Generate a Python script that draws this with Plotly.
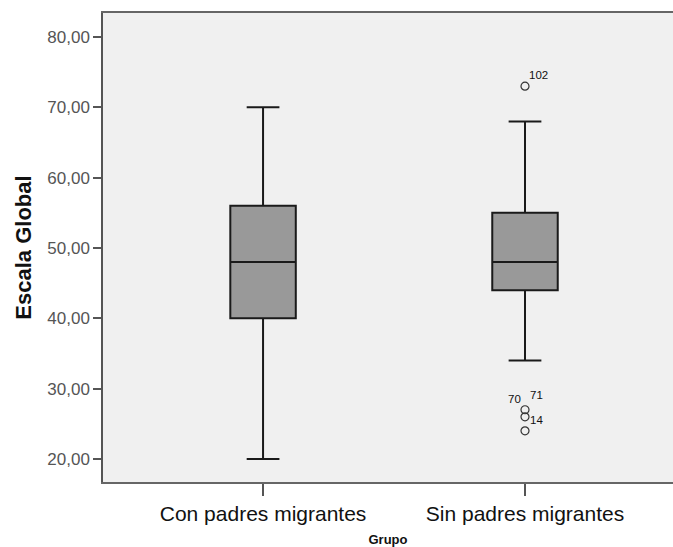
import plotly.graph_objects as go

categories = ["Con padres migrantes", "Sin padres migrantes"]
lower_whisker = [20, 34]
q1 = [40, 44]
median = [48, 48]
q3 = [56, 55]
upper_whisker = [70, 68]

outlier_group = ["Sin padres migrantes"] * 4
outlier_values = [73, 27, 26, 24]

label_text = ["102", "70", "71", "14"]
label_values = [74.6, 28.6, 29.1, 25.6]
label_offset_x = [0.05, -0.04, 0.045, 0.045]

cat_pos = {c: i for i, c in enumerate(categories)}

fig = go.Figure()
fig.add_trace(go.Box(
    x=[0, 1],
    q1=q1, median=median, q3=q3,
    lowerfence=lower_whisker, upperfence=upper_whisker,
    fillcolor="#999999",
    line=dict(color="#1a1a1a", width=2),
    width=0.25,
    whiskerwidth=0.5,
    showlegend=False,
    hoverinfo="skip",
))
fig.add_trace(go.Scatter(
    x=[cat_pos[g] for g in outlier_group], y=outlier_values,
    mode="markers",
    marker=dict(symbol="circle-open", size=8, color="#333333", line=dict(width=1.2)),
    showlegend=False,
    hoverinfo="skip",
))
for t, v, dx in zip(label_text, label_values, label_offset_x):
    fig.add_annotation(x=1 + dx, y=v, text=t, showarrow=False,
                       font=dict(family="Liberation Sans, Arial", size=11.5, color="#111111"),
                       xanchor="center", yanchor="middle")

fig.update_layout(
    width=673, height=547,
    margin=dict(l=103, r=0, t=13, b=65),
    paper_bgcolor="white",
    plot_bgcolor="#F0F0F0",
    separators=",.",
    font=dict(family="Liberation Sans, Arial", color="#333333"),
    xaxis=dict(
        range=[-0.611, 1.565],
        tickvals=[0, 1], ticktext=categories,
        showline=True, linecolor="#666666", linewidth=1.5, mirror=True,
        ticks="outside", ticklen=12, tickcolor="#555555", tickwidth=1.5,
        tickfont=dict(size=21, color="#111111"),
        showgrid=False, zeroline=False,
        title=dict(text="<b>Grupo</b>", font=dict(size=13, color="#111111"), standoff=11),
    ),
    yaxis=dict(
        range=[16.73, 83.41],
        tickvals=[20, 30, 40, 50, 60, 70, 80],
        tickformat=".2f",
        showline=True, linecolor="#555555", linewidth=1.5,
        ticks="outside", ticklen=8, tickcolor="#555555", tickwidth=1.5,
        tickfont=dict(size=17, color="#555555"),
        showgrid=False, zeroline=False,
        title=dict(text="<b>Escala Global</b>", font=dict(size=22, color="#111111"), standoff=10),
    ),
)
fig.write_html(
    "out.html",
    config={"displayModeBar": False},
    post_script=(
        "document.documentElement.style.margin='0';"
        "document.documentElement.style.overflow='hidden';"
        "document.body.style.margin='0';"
        "document.body.style.overflow='hidden';"
    ),
)
